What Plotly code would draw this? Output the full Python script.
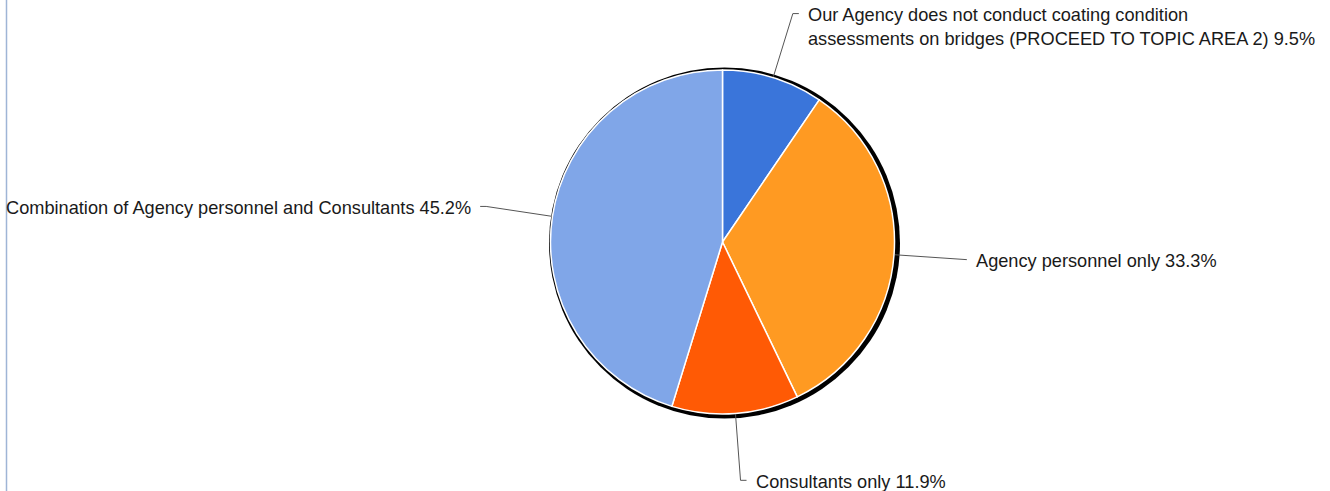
import math
import plotly.graph_objects as go

# Survey responses: who performs bridge coating condition assessments
labels = [
    "Our Agency does not conduct coating condition<br>assessments on bridges (PROCEED TO TOPIC AREA 2)",
    "Agency personnel only",
    "Consultants only",
    "Combination of Agency personnel and Consultants",
]
percents = [9.5, 33.3, 11.9, 45.2]
colors = ["#3a75da", "#ff9a22", "#ff5a05", "#80a6e8"]

W, H = 1330, 491
CX, CY, R = 722.5, 242.0, 172.0      # pie centre / radius in pixels
FONT = dict(family="Liberation Sans, Arial, sans-serif", size=18.2, color="#1a1a1a")
LINE_H = 23.0

fig = go.Figure()

# drop shadow / outline behind the pie
fig.add_shape(type="circle", xref="x", yref="y",
              x0=CX + 2 - 175.5, x1=CX + 2 + 175.5,
              y0=CY + 1 - 175.5, y1=CY + 1 + 175.5,
              fillcolor="black", line=dict(width=0), layer="below")

# thin rule down the left edge
fig.add_shape(type="line", xref="x", yref="y", x0=6.5, x1=6.5, y0=0, y1=H,
              line=dict(color="#9fb5d6", width=1.5))

fig.add_trace(go.Pie(
    labels=labels, values=percents, sort=False, direction="clockwise", rotation=0,
    marker=dict(colors=colors, line=dict(color="white", width=1.5)),
    textinfo="none", hoverinfo="skip", showlegend=False,
    domain=dict(x=[(CX - R) / W, (CX + R) / W], y=[1 - (CY + R) / H, 1 - (CY - R) / H]),
))

# leader lines and outside labels, placed at each slice's mid-angle
total = sum(percents)
cum = 0.0
for lab, p in zip(labels, percents):
    mid = (cum + p / 2) / total * 2 * math.pi
    cum += p
    sx, sy = math.sin(mid), -math.cos(mid)
    x0, y0 = CX + (R + 1) * sx, CY + (R + 1) * sy
    x1, y1 = CX + 239 * sx, CY + 239 * sy
    side = 1 if sx >= 0 else -1
    x2 = x1 + 6 * side
    fig.add_trace(go.Scatter(x=[x0, x1, x2], y=[y0, y1, y1], mode="lines",
                             line=dict(color="#555555", width=1),
                             hoverinfo="skip", showlegend=False))
    nlines = lab.count("<br>") + 1
    fig.add_annotation(x=x2 + 7 * side, y=y1 + 1.5 + (nlines - 1) * LINE_H / 2,
                       xref="x", yref="y", text=f"{lab} {p:.1f}%",
                       showarrow=False, align="left",
                       xanchor="left" if side > 0 else "right", yanchor="middle",
                       font=FONT)

fig.update_layout(
    width=W, height=H, margin=dict(l=0, r=0, t=0, b=0),
    paper_bgcolor="white", plot_bgcolor="rgba(0,0,0,0)",
    xaxis=dict(range=[0, W], visible=False, domain=[0, 1], fixedrange=True),
    yaxis=dict(range=[H, 0], visible=False, domain=[0, 1], fixedrange=True),
    showlegend=False,
)

fig.write_html("out.html")
